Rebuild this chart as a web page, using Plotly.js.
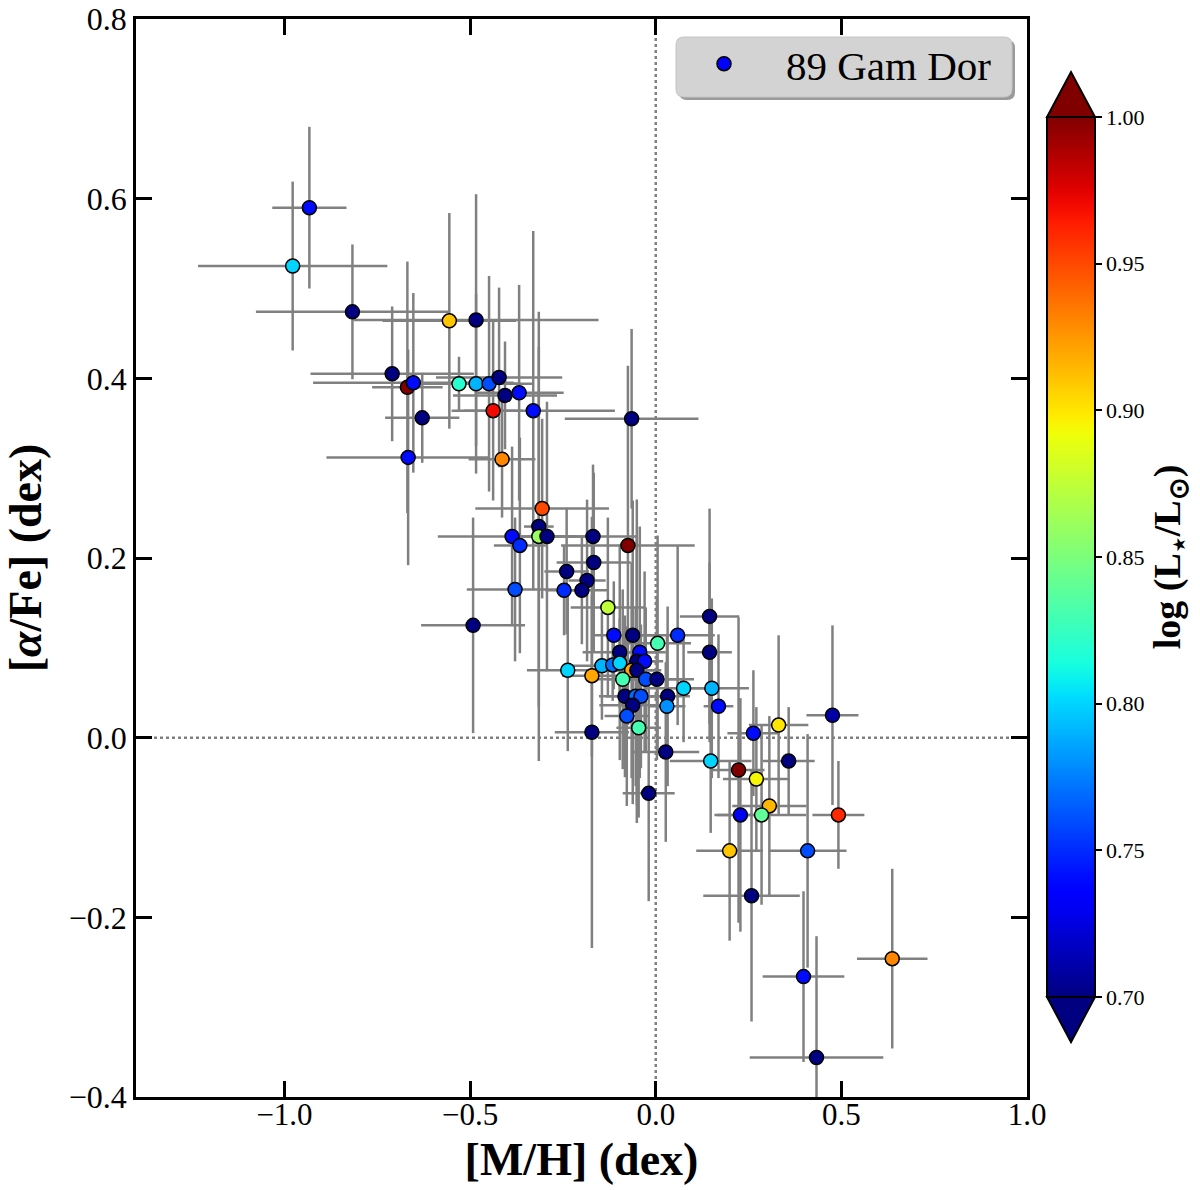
<!DOCTYPE html>
<html>
<head>
<meta charset="utf-8">
<script src="https://cdn.plot.ly/plotly-3.0.1.min.js"></script>
<style>
  html, body { margin: 0; padding: 0; background: #fff; }
  #chart { width: 1200px; height: 1190px; }
</style>
</head>
<body>
<div id="chart"></div>
<script>
// [M/H], [alpha/Fe], their errors and log(L/Lsun) for each star
var metal = [-0.933, -0.978, -0.817, -0.556, -0.484, -0.710, -0.669, -0.653, -0.629, -0.667,
             -0.530, -0.484, -0.449, -0.422, -0.406, -0.368, -0.438, -0.330, -0.065, -0.414,
             -0.306, -0.315, -0.315, -0.293, -0.387, -0.366, -0.169, -0.075, -0.167, -0.240,
             -0.185, -0.247, -0.199, -0.379, -0.492, -0.129, 0.145, -0.113, -0.062, 0.059,
             0.005, 0.145, -0.097, -0.043, -0.051, -0.030, -0.145, -0.116, -0.097, -0.065,
             -0.051, -0.237, -0.172, -0.089, -0.027, 0.003, 0.075, 0.151, -0.083, -0.054,
             -0.040, 0.032, -0.062, 0.030, 0.169, -0.078, -0.046, -0.172, 0.263, 0.331,
             0.476, 0.027, 0.148, 0.223, 0.358, 0.271, -0.019, 0.306, 0.228, 0.285,
             0.492, 0.199, 0.409, 0.258, 0.637, 0.398, 0.433];
var alpha = [0.590, 0.525, 0.474, 0.464, 0.465, 0.405, 0.390, 0.395, 0.356, 0.312,
             0.394, 0.394, 0.394, 0.401, 0.381, 0.384, 0.364, 0.364, 0.355, 0.310,
             0.255, 0.235, 0.224, 0.224, 0.224, 0.214, 0.224, 0.214, 0.195, 0.185,
             0.175, 0.164, 0.164, 0.165, 0.125, 0.145, 0.135, 0.114, 0.114, 0.114,
             0.105, 0.095, 0.095, 0.095, 0.085, 0.085, 0.080, 0.081, 0.083, 0.075,
             0.075, 0.075, 0.069, 0.065, 0.065, 0.065, 0.055, 0.055, 0.046, 0.046,
             0.046, 0.046, 0.036, 0.035, 0.035, 0.024, 0.011, 0.006, 0.005, 0.014,
             0.025, -0.016, -0.026, -0.036, -0.026, -0.046, -0.062, -0.076, -0.086, -0.086,
             -0.086, -0.126, -0.126, -0.176, -0.246, -0.266, -0.356];
var metalErr = [0.10, 0.255, 0.26, 0.18, 0.33, 0.22, 0.095, 0.27, 0.10, 0.22,
                0.15, 0.12, 0.12, 0.17, 0.14, 0.12, 0.08, 0.22, 0.18, 0.09,
                0.18, 0.04, 0.03, 0.08, 0.20, 0.07, 0.12, 0.18, 0.10, 0.06,
                0.05, 0.05, 0.07, 0.13, 0.14, 0.10, 0.08, 0.06, 0.06, 0.10,
                0.09, 0.06, 0.10, 0.07, 0.06, 0.05, 0.10, 0.05, 0.05, 0.08,
                0.06, 0.11, 0.08, 0.09, 0.10, 0.10, 0.10, 0.10, 0.07, 0.08,
                0.05, 0.06, 0.09, 0.05, 0.04, 0.06, 0.06, 0.10, 0.07, 0.08,
                0.07, 0.09, 0.11, 0.07, 0.07, 0.09, 0.07, 0.10, 0.07, 0.12,
                0.07, 0.09, 0.105, 0.13, 0.095, 0.11, 0.18];
var alphaErr = [0.09, 0.094, 0.075, 0.12, 0.14, 0.075, 0.14, 0.10, 0.05, 0.12,
                0.03, 0.10, 0.12, 0.10, 0.06, 0.12, 0.10, 0.20, 0.10, 0.065,
                0.10, 0.20, 0.25, 0.15, 0.10, 0.12, 0.08, 0.20, 0.10, 0.07,
                0.09, 0.05, 0.06, 0.08, 0.12, 0.10, 0.12, 0.06, 0.15, 0.10,
                0.12, 0.10, 0.12, 0.14, 0.18, 0.10, 0.06, 0.04, 0.05, 0.12,
                0.15, 0.09, 0.09, 0.10, 0.08, 0.09, 0.06, 0.10, 0.09, 0.10,
                0.08, 0.10, 0.11, 0.08, 0.08, 0.10, 0.10, 0.24, 0.07, 0.10,
                0.10, 0.10, 0.08, 0.17, 0.06, 0.08, 0.12, 0.10, 0.13, 0.10,
                0.06, 0.10, 0.13, 0.14, 0.10, 0.095, 0.135];
var logL = [0.74, 0.80, 0.70, 0.91, 0.70, 0.70, 1.00, 0.74, 0.70, 0.74,
            0.82, 0.79, 0.76, 0.70, 0.70, 0.74, 0.97, 0.74, 0.70, 0.93,
            0.95, 0.70, 0.86, 0.70, 0.74, 0.75, 0.70, 1.00, 0.70, 0.70,
            0.70, 0.75, 0.70, 0.76, 0.70, 0.875, 0.70, 0.74, 0.70, 0.75,
            0.83, 0.70, 0.70, 0.74, 0.70, 0.74, 0.79, 0.77, 0.80, 0.92,
            0.70, 0.80, 0.92, 0.83, 0.76, 0.70, 0.80, 0.79, 0.70, 0.77,
            0.76, 0.70, 0.70, 0.78, 0.74, 0.76, 0.83, 0.70, 0.74, 0.90,
            0.71, 0.70, 0.80, 1.00, 0.70, 0.895, 0.70, 0.915, 0.73, 0.84,
            0.96, 0.91, 0.76, 0.70, 0.93, 0.74, 0.70];

var xTickVals = [-1.0, -0.5, 0.0, 0.5, 1.0];
var xTickText = ['\u22121.0', '\u22120.5', '0.0', '0.5', '1.0'];
var yTickVals = [-0.4, -0.2, 0.0, 0.2, 0.4, 0.6, 0.8];
var yTickText = ['\u22120.4', '\u22120.2', '0.0', '0.2', '0.4', '0.6', '0.8'];
var cbTickVals = [0.70, 0.75, 0.80, 0.85, 0.90, 0.95, 1.00];
var cbTickText = ['0.70', '0.75', '0.80', '0.85', '0.90', '0.95', '1.00'];
var cMin = 0.70, cMax = 1.00;

// matplotlib "jet" segment data
function seg(pts, t) {
  for (var i = 1; i < pts.length; i++) {
    if (t <= pts[i][0]) {
      var a = pts[i - 1], b = pts[i];
      return a[1] + (b[1] - a[1]) * (t - a[0]) / (b[0] - a[0]);
    }
  }
  return pts[pts.length - 1][1];
}
function jet(t) {
  var r = seg([[0, 0], [0.35, 0], [0.66, 1], [0.89, 1], [1, 0.5]], t);
  var g = seg([[0, 0], [0.125, 0], [0.375, 1], [0.64, 1], [0.91, 0], [1, 0]], t);
  var b = seg([[0, 0.5], [0.11, 1], [0.34, 1], [0.65, 0], [1, 0]], t);
  return 'rgb(' + Math.round(r * 255) + ',' + Math.round(g * 255) + ',' + Math.round(b * 255) + ')';
}
var jetScale = [];
for (var k = 0; k <= 50; k++) jetScale.push([k / 50, jet(k / 50)]);

// plot area in pixels, used to place decorations in paper units
var L = 136, R = 1027, T = 19, B = 1097;
function px(x) { return (x - L) / (R - L); }
function py(y) { return (B - y) / (B - T); }

var serif = 'Liberation Serif, Times New Roman, serif';

var stars = {
  x: metal, y: alpha,
  type: 'scatter', mode: 'markers',
  showlegend: false,
  error_x: { type: 'data', array: metalErr, color: '#808080', thickness: 2.5, width: 0 },
  error_y: { type: 'data', array: alphaErr, color: '#808080', thickness: 2.5, width: 0 },
  marker: {
    size: 14, color: logL, colorscale: jetScale, cmin: cMin, cmax: cMax,
    line: { color: '#000', width: 1.5 },
    colorbar: {
      x: px(1047), xanchor: 'left', xpad: 0,
      y: py(557), yanchor: 'middle', ypad: 0,
      thickness: 48, len: 880, lenmode: 'pixels',
      outlinewidth: 2, outlinecolor: '#000',
      ticks: 'outside', ticklen: 6, tickwidth: 1.5, tickcolor: '#000',
      tickvals: cbTickVals, ticktext: cbTickText,
      tickfont: { family: serif, size: 22, color: '#000' },
      title: { text: '<b>log (L<sub>\u22c6</sub>/L<sub>\u2299</sub>)</b>', side: 'right',
               font: { family: serif, size: 38, color: '#000' } }
    }
  },
  hoverinfo: 'x+y'
};

var legendEntry = {
  x: [null], y: [null],
  type: 'scatter', mode: 'markers',
  name: '89 Gam Dor',
  marker: { size: 14, color: '#0000ff', line: { color: '#000', width: 1.5 } }
};

function roundRect(x0, y0, x1, y1, r) {
  var rx = r / (R - L), ry = r / (B - T);
  var a = px(x0), b = px(x1), c = py(y0), d = py(y1);
  return 'M ' + (a + rx) + ',' + c + ' L ' + (b - rx) + ',' + c +
    ' Q ' + b + ',' + c + ' ' + b + ',' + (c - ry) +
    ' L ' + b + ',' + (d + ry) + ' Q ' + b + ',' + d + ' ' + (b - rx) + ',' + d +
    ' L ' + (a + rx) + ',' + d + ' Q ' + a + ',' + d + ' ' + a + ',' + (d + ry) +
    ' L ' + a + ',' + (c - ry) + ' Q ' + a + ',' + c + ' ' + (a + rx) + ',' + c + ' Z';
}
function tri(x0, x1, yBase, yTip) {
  return 'M ' + px(x0) + ',' + py(yBase) + ' L ' + px(x1) + ',' + py(yBase) +
    ' L ' + px((x0 + x1) / 2) + ',' + py(yTip) + ' Z';
}

var layout = {
  width: 1200, height: 1190,
  margin: { l: L, r: 1200 - R, t: T, b: 1190 - B, autoexpand: false },
  paper_bgcolor: '#fff', plot_bgcolor: '#fff',
  font: { family: serif, color: '#000' },
  xaxis: {
    range: [-1.4, 1.0], tickvals: xTickVals, ticktext: xTickText,
    showgrid: false, zeroline: false, showline: true, linecolor: '#000', linewidth: 2.5,
    mirror: 'ticks', ticks: 'inside', ticklen: 16, tickwidth: 2.5, tickcolor: '#000',
    ticklabelstandoff: -12,
    tickfont: { family: serif, size: 31 },
    title: { text: '<b>[M/H] (dex)</b>', font: { family: serif, size: 46 }, standoff: 12 }
  },
  yaxis: {
    range: [-0.4, 0.8], tickvals: yTickVals, ticktext: yTickText,
    showgrid: false, zeroline: false, showline: true, linecolor: '#000', linewidth: 2.5,
    mirror: 'ticks', ticks: 'inside', ticklen: 16, tickwidth: 2.5, tickcolor: '#000',
    tickfont: { family: serif, size: 32 },
    title: { text: '<b>[<i>\u03b1</i>/Fe] (dex)</b>', font: { family: serif, size: 46 }, standoff: 14 }
  },
  showlegend: true,
  legend: {
    x: px(662), y: py(64), xanchor: 'left', yanchor: 'middle',
    bgcolor: 'rgba(0,0,0,0)', borderwidth: 0, itemwidth: 114,
    font: { family: serif, size: 41, color: '#000' }
  },
  shapes: [
    { type: 'line', xref: 'x', yref: 'paper', x0: 0, x1: 0, y0: 0, y1: 1,
      line: { color: '#808080', width: 2.5, dash: 'dot' }, layer: 'below' },
    { type: 'line', xref: 'paper', yref: 'y', x0: 0, x1: 1, y0: 0, y1: 0,
      line: { color: '#808080', width: 2.5, dash: 'dot' }, layer: 'below' },
    { type: 'path', xref: 'paper', yref: 'paper', path: roundRect(679, 40, 1015, 100, 8),
      fillcolor: '#9a9a9a', line: { width: 0 }, layer: 'above' },
    { type: 'path', xref: 'paper', yref: 'paper', path: roundRect(676, 37, 1012, 97, 8),
      fillcolor: '#d3d3d3', line: { color: '#c4c4c4', width: 1 }, layer: 'above' },
    { type: 'path', xref: 'paper', yref: 'paper', path: tri(1047, 1095, 117, 72),
      fillcolor: jet(1), line: { color: '#000', width: 2 } },
    { type: 'path', xref: 'paper', yref: 'paper', path: tri(1047, 1095, 997, 1042),
      fillcolor: jet(0), line: { color: '#000', width: 2 } }
  ]
};

Plotly.newPlot('chart', [stars, legendEntry], layout, { displayModeBar: false });
</script>
</body>
</html>
